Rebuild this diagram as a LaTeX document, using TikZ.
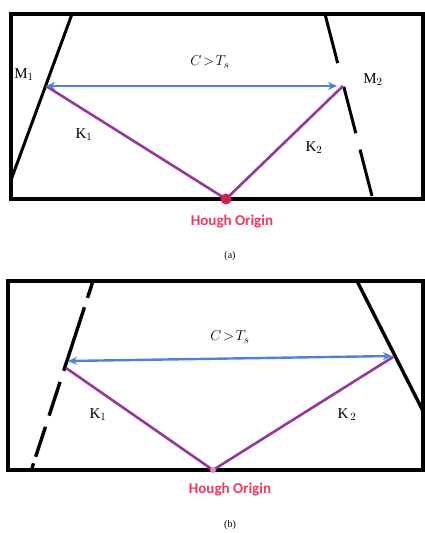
\documentclass[tikz,border=0pt]{standalone}
\usepackage{fontspec}
\setmainfont{Liberation Serif}
\newfontfamily\houghfont{Carlito}
\usetikzlibrary{calc,arrows.meta}
\definecolor{cblue}{RGB}{80,130,210}
\definecolor{kpurple}{RGB}{150,55,155}
\definecolor{hred}{RGB}{235,60,95}
\definecolor{hdot}{RGB}{215,30,85}
\definecolor{hpink}{RGB}{225,130,215}
\begin{document}
\begin{tikzpicture}[x=1pt,y=-1pt,
  frame/.style={line width=3.5pt,black},
  edge/.style={line width=3pt,black},
  kline/.style={line width=2.6pt,kpurple},
  carrow/.style={line width=2.4pt,cblue,{Stealth[length=9pt,width=8pt]}-{Stealth[length=9pt,width=8pt]}},
  lab/.style={font=\fontsize{15}{15}\selectfont,inner sep=0pt},
  clab/.style={font=\fontsize{15}{15}\selectfont,inner sep=0pt},
  hough/.style={font=\houghfont\bfseries\fontsize{15}{15}\selectfont,text=hred,inner sep=0pt},
  capt/.style={font=\fontsize{10}{10}\selectfont,inner sep=0pt}]
\useasboundingbox (0,0) rectangle (425,533);

% ---------- panel (a) ----------
\draw[frame] (11,14) rectangle (423,199);
\coordinate (aLt) at (72,14);
\coordinate (aLb) at (11,180);
\draw[edge] (aLt) -- (aLb);
\coordinate (aRt) at (325,14);
\coordinate (aRb) at (372,196);
\draw[edge] (aRt) -- ($(aRt)!0.27!(aRb)$);
\draw[edge] ($(aRt)!0.40!(aRb)$) -- ($(aRt)!0.655!(aRb)$);
\draw[edge] ($(aRt)!0.745!(aRb)$) -- (aRb);

\coordinate (aM1) at (46,86);
\coordinate (aM2) at (343,86);
\coordinate (aTip) at (337,86);
\coordinate (aO) at (226,199);
\draw[kline] (aM1) -- (aO) -- (aM2);
\draw[carrow] (aM1) -- (aTip);
\node[circle,fill=hdot,minimum size=11pt,inner sep=0pt] (aOd) at (aO) {};

\node[lab] (aLM1) at (24,75) {M$_1$};
\node[lab] (aLM2) at (373,80) {M$_2$};
\node[lab] (aLK1) at (84,135) {K$_1$};
\node[lab] (aLK2) at (314,148) {K$_2$};
\node[clab] (aLC) at (210,62) {$C\!>\!T_s$};
\node[hough] (aLH) at (232,222) {Hough Origin};
\node[capt] (aCap) at (230,256) {(a)};

% ---------- panel (b) ----------
\draw[frame] (8,281) rectangle (423,470);
\draw[line width=4.8pt] (203,470) -- (260,470);
\coordinate (bLt) at (93,281);
\coordinate (bLb) at (32,468);
\draw[edge,line width=3.4pt] (bLt) -- ($(bLt)!0.09!(bLb)$);
\draw[edge,line width=3.4pt] ($(bLt)!0.14!(bLb)$) -- ($(bLt)!0.48!(bLb)$);
\draw[edge,line width=3.4pt] ($(bLt)!0.54!(bLb)$) -- ($(bLt)!0.72!(bLb)$);
\draw[edge,line width=3.4pt] ($(bLt)!0.78!(bLb)$) -- ($(bLt)!0.94!(bLb)$);
\draw[edge,line width=3.4pt] ($(bLt)!0.975!(bLb)$) -- (bLb);
\coordinate (bRt) at (357,281);
\coordinate (bRb) at (423,411);
\draw[edge,line width=3.4pt] (bRt) -- (bRb);

\coordinate (bM1) at (66,368);
\coordinate (bM2) at (393,357);
\coordinate (bTipL) at (68,361);
\coordinate (bTipR) at (392,356);
\coordinate (bO) at (213,470);
\draw[kline] (bM1) -- (bO) -- (bM2);
\draw[carrow] (bTipL) -- (bTipR);
\node[circle,fill=hpink,minimum size=6pt,inner sep=0pt] (bOd) at (bO) {};

\node[lab] (bLK1) at (98,415) {K$_1$};
\node[lab] (bLK2) at (347,415) {K$_{\,2}$};
\node[clab] (bLC) at (230,337) {$C\!>\!T_s$};
\node[hough] (bLH) at (230,490) {Hough Origin};
\node[capt] (bCap) at (230,525) {(b)};
\end{tikzpicture}
\end{document}
